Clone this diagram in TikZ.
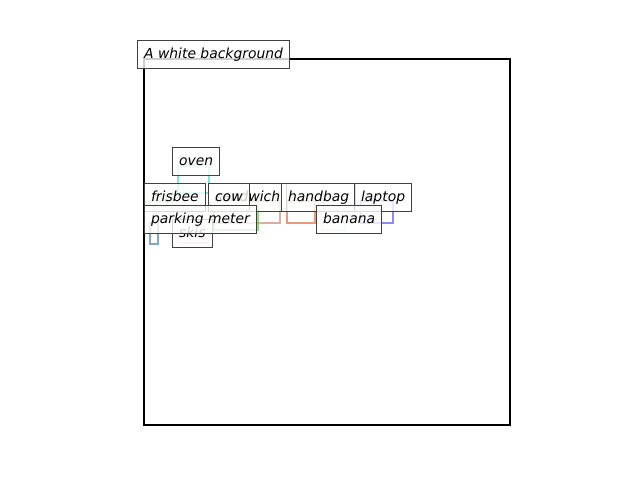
\documentclass[tikz,border=0pt]{standalone}
\usepackage{fontspec}
\setmainfont{DejaVu Sans}
\begin{document}
\begin{tikzpicture}[x=1pt,y=-1pt,
  lbl/.style={draw=black!75, line width=1pt, fill=white, fill opacity=0.8, text opacity=1,
    font=\fontsize{13.9}{16}\selectfont\itshape, inner xsep=6.6pt, inner ysep=0pt,
    text height=10.8pt, text depth=3.2pt, minimum height=28pt, anchor=north west},
  bb/.style={line width=2.4pt, draw opacity=0.7}]
\useasboundingbox (0,0) rectangle (640,480);
\definecolor{cOven}{RGB}{64,224,208}
\definecolor{cFris}{RGB}{144,220,144}
\definecolor{cCow}{RGB}{100,200,70}
\definecolor{cSand}{RGB}{205,140,120}
\definecolor{cHand}{RGB}{220,110,70}
\definecolor{cLap}{RGB}{90,90,240}
\definecolor{cBan}{RGB}{190,235,200}
\definecolor{cPark}{RGB}{70,130,170}
\definecolor{cSkis}{RGB}{245,180,200}
% axes frame
\draw[line width=1.6pt] (144,59) rectangle (510,425);
% boxes
\draw[bb, cOven] (178,165) rectangle (209,193);
\draw[bb, cFris] (150,201) rectangle (173,207);
\draw[bb, cSand] (214,201) rectangle (280,223);
\draw[bb, cCow] (214,201) rectangle (258,230);
\draw[bb, cHand] (287,201) rectangle (315,223);
\draw[bb, cLap] (361,201) rectangle (393,223);
\draw[bb, cBan, draw opacity=0.8] (322,223) rectangle (345,230);
\draw[bb, cPark] (150,223) rectangle (158,244);
\draw[bb, cSkis, draw opacity=0.8] (178,237) rectangle (208,243);
% labels
\node[lbl] (oven) at (172,147) {oven};
\node[lbl] (frisbee) at (144,183) {frisbee};
\node[lbl] (sandwich) at (208,183) {sandwich};
\node[lbl] (cow) at (208,183) {cow};
\node[lbl] (handbag) at (281,183) {handbag};
\node[lbl] (laptop) at (354,183) {laptop};
\node[lbl] (skis) at (172,219) {skis};
\node[lbl] (parking) at (144,205) {parking meter};
\node[lbl] (banana) at (316,205) {banana};
\node[lbl] (title) at (137,40) {A white background};
\end{tikzpicture}
\end{document}
